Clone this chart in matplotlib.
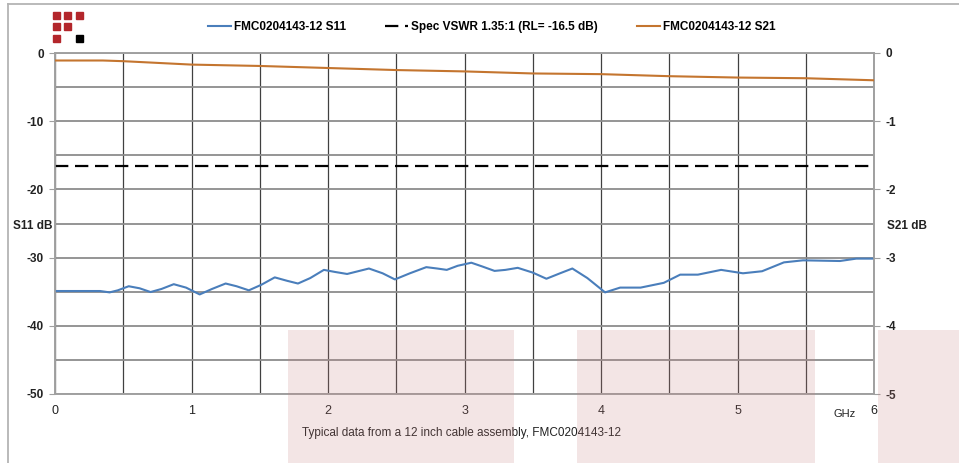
"""S11 / S21 de un cable FMC0204143-12 (reproduccion del grafico de datos tipicos)"""

import numpy as np
import matplotlib
matplotlib.use("Agg")
import matplotlib.pyplot as plt
from matplotlib.lines import Line2D
from matplotlib.patches import Rectangle

plt.rcParams["axes.unicode_minus"] = False

# datos
s11_freq = [0, 0.15, 0.33, 0.40, 0.46, 0.54, 0.62, 0.70, 0.78, 0.87,
            0.96, 1.06, 1.15, 1.25, 1.33, 1.42, 1.51, 1.61, 1.70, 1.78,
            1.87, 1.97, 2.05, 2.14, 2.22, 2.30, 2.40, 2.49, 2.60, 2.72,
            2.80, 2.87, 2.95, 3.05, 3.13, 3.22, 3.30, 3.39, 3.50, 3.60,
            3.70, 3.79, 3.90, 4.03, 4.14, 4.29, 4.46, 4.58, 4.71, 4.88,
            5.04, 5.18, 5.34, 5.48, 5.75, 5.87, 6.0]
s11_db = [-34.9, -34.9, -34.9, -35.1, -34.8, -34.2, -34.5, -35.05, -34.6, -33.9,
          -34.4, -35.4, -34.6, -33.8, -34.2, -34.8, -34.0, -32.9, -33.4, -33.8,
          -33.0, -31.8, -32.1, -32.4, -32.0, -31.6, -32.3, -33.2, -32.3, -31.4,
          -31.6, -31.8, -31.2, -30.75, -31.3, -31.95, -31.8, -31.5, -32.2, -33.1,
          -32.3, -31.6, -33.0, -35.1, -34.4, -34.4, -33.7, -32.5, -32.5, -31.8,
          -32.3, -32.0, -30.7, -30.4, -30.5, -30.15, -30.15]

s21_freq = [0, 0.35, 0.5, 1.0, 1.5, 2.0, 2.5, 3.0, 3.5, 4.0, 4.5, 5.0, 5.5, 6.0]
s21_db = [-0.11, -0.11, -0.12, -0.17, -0.19, -0.22, -0.25, -0.27, -0.30, -0.31,
          -0.34, -0.36, -0.37, -0.40]

spec_freq = [0, 6]
spec_db = [-16.5, -16.5]

left_ticks = [0, -10, -20, -30, -40, -50]
right_ticks = [0, -1, -2, -3, -4, -5]
x_ticks = [0, 1, 2, 3, 4, 5, 6]

label_s11 = "FMC0204143-12 S11"
label_spec = "Spec VSWR 1.35:1 (RL= -16.5 dB)"
label_s21 = "FMC0204143-12 S21"
caption = "Typical data from a 12 inch cable assembly, FMC0204143-12"

W, H = 959, 463
c_s11 = "#4a7ebb"
c_s21 = "#c4752f"
bold_font = ["Liberation Sans", "DejaVu Sans"]
narrow_font = ["Liberation Sans Narrow", "Liberation Sans", "DejaVu Sans"]

fig = plt.figure(figsize=(W / 100, H / 100), dpi=100)


def px(x0, y0, x1, y1):
    """ rectangulo en pixeles (origen arriba a la izquierda) -> fraccion de figura """
    return [x0 / W, 1 - y1 / H, (x1 - x0) / W, (y1 - y0) / H]


ax = fig.add_axes(px(55, 53, 874, 394))
ax2 = ax.twinx()

ax.set_xlim(0, 6)
ax.set_ylim(-50, 0)
ax2.set_ylim(-5, 0)

# rejilla
ax.set_yticks(left_ticks)
ax.set_yticks(np.arange(-45, 0, 10), minor=True)
ax.set_xticks(x_ticks)
ax.set_xticks(np.arange(0.5, 6, 1), minor=True)
ax.grid(True, which="both", axis="y", color="#8c8c8c", lw=1.3)
ax.grid(True, which="both", axis="x", color="#404040", lw=0.9)
ax.set_axisbelow(True)

for a in (ax, ax2):
    for s in a.spines.values():
        s.set_color("#a0a0a0")
        s.set_linewidth(1.2)

ax.tick_params(axis="y", which="major", length=4, color="#a0a0a0", pad=4,
               labelsize=8.5, labelcolor="#222222")
ax.tick_params(axis="y", which="minor", length=0)
ax.tick_params(axis="x", which="both", length=0, pad=8, labelsize=9, labelcolor="#222222")
for t in ax.get_yticklabels():
    t.set_fontweight("bold")
    t.set_family(bold_font)
for t in ax.get_xticklabels():
    t.set_family(narrow_font)

ax2.set_yticks(right_ticks)
ax2.tick_params(axis="y", length=4, color="#a0a0a0", pad=4, labelsize=8.5,
                labelcolor="#222222")
for t in ax2.get_yticklabels():
    t.set_fontweight("bold")
    t.set_family(bold_font)

# series
ax.plot(spec_freq, spec_db, color="black", lw=1.6, dashes=(6, 3), zorder=3)
ax.plot(s11_freq, s11_db, color=c_s11, lw=1.5, zorder=4)
ax2.plot(s21_freq, s21_db, color=c_s21, lw=1.5, zorder=4)

# leyenda
handles = [Line2D([], [], color=c_s11, lw=1.5),
           Line2D([], [], color="black", lw=1.6, dashes=(6, 3)),
           Line2D([], [], color=c_s21, lw=1.5)]
fig.legend(handles, [label_s11, label_spec, label_s21], loc="center",
           bbox_to_anchor=(492 / W, 1 - 27 / H), ncol=3, frameon=False,
           handlelength=1.9, handletextpad=0.3, columnspacing=3.3,
           prop={"family": bold_font, "weight": "bold", "size": 8.5})

# textos
fig.text(13 / W, 1 - 226 / H, "S11 dB", fontsize=8.5, fontweight="bold",
         family=bold_font, va="center", ha="left", color="#222222")
fig.text(887 / W, 1 - 226 / H, "S21 dB", fontsize=8.5, fontweight="bold",
         family=bold_font, va="center", ha="left", color="#222222")
fig.text(845 / W, 1 - 414 / H, "GHz", fontsize=8, family=narrow_font,
         va="center", ha="center", color="#222222")
fig.text(462 / W, 1 - 433 / H, caption, fontsize=8.5, family=narrow_font,
         va="center", ha="center", color="#222222")

# logo
for row, col, c in [(0, 0, "#b3262b"), (0, 1, "#b3262b"), (0, 2, "#b3262b"),
                    (1, 0, "#b3262b"), (1, 1, "#b3262b"),
                    (2, 0, "#b3262b"), (2, 2, "black")]:
    x0 = 53 + col * 11.3
    y0 = 12 + row * 11.3
    fig.patches.append(Rectangle((x0 / W, 1 - (y0 + 7) / H), 7 / W, 7 / H,
                                 transform=fig.transFigure, color=c))

# marco exterior
fig.add_artist(Line2D([8 / W, 1], [1 - 4 / H, 1 - 4 / H], color="#b4b4b4", lw=1.3,
                      transform=fig.transFigure))
fig.add_artist(Line2D([8 / W, 8 / W], [0, 1 - 4 / H], color="#b4b4b4", lw=1.3,
                      transform=fig.transFigure))

# zonas rosadas superpuestas
for x0, x1 in [(288, 514), (577, 815), (878, 959)]:
    r = Rectangle((x0 / W, 0), (x1 - x0) / W, (463 - 330) / H,
                  transform=fig.transFigure, facecolor=(0.78, 0.5, 0.5),
                  alpha=0.2, edgecolor="none", zorder=10)
    fig.add_artist(r)

fig.savefig("out.png", dpi=100)
